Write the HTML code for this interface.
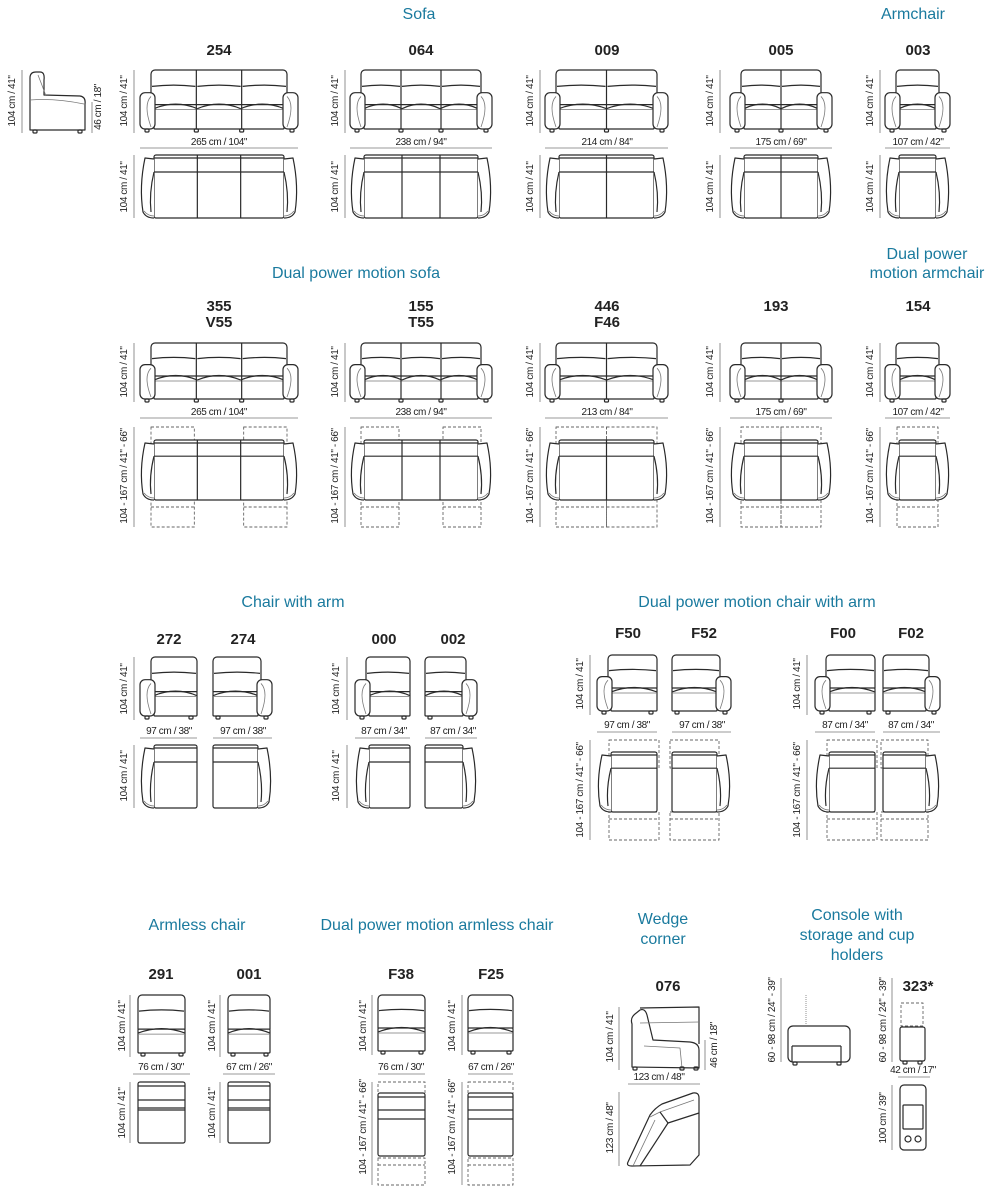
<!DOCTYPE html>
<html><head><meta charset="utf-8"><style>
html,body{margin:0;padding:0;background:#fff;}
svg{display:block;}
.h{font-family:"Liberation Sans",sans-serif;font-size:16px;fill:#1a7a9e;text-anchor:middle;}
.n{font-family:"Liberation Sans",sans-serif;font-size:15px;font-weight:bold;fill:#222;text-anchor:middle;}
.d{font-family:"Liberation Sans Narrow","Liberation Sans",sans-serif;font-size:10px;fill:#222;text-anchor:middle;letter-spacing:-0.4px;}
</style></head><body>
<svg id="s" width="1000" height="1199" viewBox="0 0 1000 1199" xmlns="http://www.w3.org/2000/svg">
<g id="shapes" fill="none" stroke="#2a2a2a" stroke-width="1.2" stroke-linejoin="round"></g>
<g id="txt">
<text class="h" x="419" y="19">Sofa</text>
<text class="h" x="913" y="19">Armchair</text>
<text class="h" x="356" y="278">Dual power motion sofa</text>
<text class="h" x="927" y="259">Dual power</text>
<text class="h" x="927" y="278">motion armchair</text>
<text class="h" x="293" y="607">Chair with arm</text>
<text class="h" x="757" y="607">Dual power motion chair with arm</text>
<text class="h" x="197" y="930">Armless chair</text>
<text class="h" x="437" y="930">Dual power motion armless chair</text>
<text class="h" x="663" y="924">Wedge</text>
<text class="h" x="663" y="944">corner</text>
<text class="h" x="857" y="920">Console with</text>
<text class="h" x="857" y="940">storage and cup</text>
<text class="h" x="857" y="960">holders</text>

<text class="n" x="219" y="55">254</text>
<text class="n" x="421" y="55">064</text>
<text class="n" x="607" y="55">009</text>
<text class="n" x="781" y="55">005</text>
<text class="n" x="918" y="55">003</text>
<text class="n" x="219" y="311">355</text><text class="n" x="219" y="327">V55</text>
<text class="n" x="421" y="311">155</text><text class="n" x="421" y="327">T55</text>
<text class="n" x="607" y="311">446</text><text class="n" x="607" y="327">F46</text>
<text class="n" x="776" y="311">193</text>
<text class="n" x="918" y="311">154</text>
<text class="n" x="169" y="644">272</text>
<text class="n" x="243" y="644">274</text>
<text class="n" x="384" y="644">000</text>
<text class="n" x="453" y="644">002</text>
<text class="n" x="628" y="638">F50</text>
<text class="n" x="704" y="638">F52</text>
<text class="n" x="843" y="638">F00</text>
<text class="n" x="911" y="638">F02</text>
<text class="n" x="161" y="979">291</text>
<text class="n" x="249" y="979">001</text>
<text class="n" x="401" y="979">F38</text>
<text class="n" x="491" y="979">F25</text>
<text class="n" x="668" y="991">076</text>
<text class="n" x="918" y="991">323*</text>

<text class="d" x="219" y="145">265 cm / 104"</text>
<text class="d" x="421" y="145">238 cm / 94"</text>
<text class="d" x="607" y="145">214 cm / 84"</text>
<text class="d" x="781" y="145">175 cm / 69"</text>
<text class="d" x="918" y="145">107 cm / 42"</text>
<text class="d" x="219" y="415">265 cm / 104"</text>
<text class="d" x="421" y="415">238 cm / 94"</text>
<text class="d" x="607" y="415">213 cm / 84"</text>
<text class="d" x="781" y="415">175 cm / 69"</text>
<text class="d" x="918" y="415">107 cm / 42"</text>
<text class="d" x="169" y="734">97 cm / 38"</text>
<text class="d" x="243" y="734">97 cm / 38"</text>
<text class="d" x="384" y="734">87 cm / 34"</text>
<text class="d" x="453" y="734">87 cm / 34"</text>
<text class="d" x="627" y="728">97 cm / 38"</text>
<text class="d" x="702" y="728">97 cm / 38"</text>
<text class="d" x="845" y="728">87 cm / 34"</text>
<text class="d" x="911" y="728">87 cm / 34"</text>
<text class="d" x="161" y="1070">76 cm / 30"</text>
<text class="d" x="249" y="1070">67 cm / 26"</text>
<text class="d" x="401" y="1070">76 cm / 30"</text>
<text class="d" x="491" y="1070">67 cm / 26"</text>
<text class="d" x="659" y="1080">123 cm / 48"</text>
<text class="d" x="913" y="1073">42 cm / 17"</text>

<text class="d" transform="translate(15,101) rotate(-90)">104 cm / 41"</text>
<text class="d" transform="translate(101,107) rotate(-90)">46 cm / 18"</text>
<text class="d" transform="translate(127,101) rotate(-90)">104 cm / 41"</text>
<text class="d" transform="translate(338,101) rotate(-90)">104 cm / 41"</text>
<text class="d" transform="translate(533,101) rotate(-90)">104 cm / 41"</text>
<text class="d" transform="translate(713,101) rotate(-90)">104 cm / 41"</text>
<text class="d" transform="translate(873,101) rotate(-90)">104 cm / 41"</text>
<text class="d" transform="translate(127,187) rotate(-90)">104 cm / 41"</text>
<text class="d" transform="translate(338,187) rotate(-90)">104 cm / 41"</text>
<text class="d" transform="translate(533,187) rotate(-90)">104 cm / 41"</text>
<text class="d" transform="translate(713,187) rotate(-90)">104 cm / 41"</text>
<text class="d" transform="translate(873,187) rotate(-90)">104 cm / 41"</text>
<text class="d" transform="translate(127,372) rotate(-90)">104 cm / 41"</text>
<text class="d" transform="translate(338,372) rotate(-90)">104 cm / 41"</text>
<text class="d" transform="translate(533,372) rotate(-90)">104 cm / 41"</text>
<text class="d" transform="translate(713,372) rotate(-90)">104 cm / 41"</text>
<text class="d" transform="translate(873,372) rotate(-90)">104 cm / 41"</text>
<text class="d" transform="translate(127,476) rotate(-90)">104 - 167 cm / 41" - 66"</text>
<text class="d" transform="translate(338,476) rotate(-90)">104 - 167 cm / 41" - 66"</text>
<text class="d" transform="translate(533,476) rotate(-90)">104 - 167 cm / 41" - 66"</text>
<text class="d" transform="translate(713,476) rotate(-90)">104 - 167 cm / 41" - 66"</text>
<text class="d" transform="translate(873,476) rotate(-90)">104 - 167 cm / 41" - 66"</text>
<text class="d" transform="translate(127,689) rotate(-90)">104 cm / 41"</text>
<text class="d" transform="translate(339,689) rotate(-90)">104 cm / 41"</text>
<text class="d" transform="translate(127,776) rotate(-90)">104 cm / 41"</text>
<text class="d" transform="translate(339,776) rotate(-90)">104 cm / 41"</text>
<text class="d" transform="translate(583,684) rotate(-90)">104 cm / 41"</text>
<text class="d" transform="translate(800,684) rotate(-90)">104 cm / 41"</text>
<text class="d" transform="translate(583,790) rotate(-90)">104 - 167 cm / 41" - 66"</text>
<text class="d" transform="translate(800,790) rotate(-90)">104 - 167 cm / 41" - 66"</text>
<text class="d" transform="translate(125,1026) rotate(-90)">104 cm / 41"</text>
<text class="d" transform="translate(215,1026) rotate(-90)">104 cm / 41"</text>
<text class="d" transform="translate(366,1026) rotate(-90)">104 cm / 41"</text>
<text class="d" transform="translate(455,1026) rotate(-90)">104 cm / 41"</text>
<text class="d" transform="translate(125,1113) rotate(-90)">104 cm / 41"</text>
<text class="d" transform="translate(215,1113) rotate(-90)">104 cm / 41"</text>
<text class="d" transform="translate(366,1127) rotate(-90)">104 - 167 cm / 41" - 66"</text>
<text class="d" transform="translate(455,1127) rotate(-90)">104 - 167 cm / 41" - 66"</text>
<text class="d" transform="translate(613,1037) rotate(-90)">104 cm / 41"</text>
<text class="d" transform="translate(717,1045) rotate(-90)">46 cm / 18"</text>
<text class="d" transform="translate(613,1128) rotate(-90)">123 cm / 48"</text>
<text class="d" transform="translate(775,1020) rotate(-90)">60 - 98 cm / 24" - 39"</text>
<text class="d" transform="translate(886,1020) rotate(-90)">60 - 98 cm / 24" - 39"</text>
<text class="d" transform="translate(886,1118) rotate(-90)">100 cm / 39"</text>
</g>
</svg>
<script>
(function(){
var S='';
function L(a,b,c,d,ex){S+='<line x1="'+a+'" y1="'+b+'" x2="'+c+'" y2="'+d+'" '+(ex||'')+'/>';}
function R(x,y,w,h,r,ex){S+='<rect x="'+x+'" y="'+y+'" width="'+w+'" height="'+h+'" rx="'+(r||0)+'" '+(ex||'')+'/>';}
function P(d,ex){S+='<path d="'+d+'" '+(ex||'')+'/>';}
var thin='stroke="#777" stroke-width="0.8"';
var dash='stroke="#666" stroke-width="0.9" stroke-dasharray="3,2"';
function front(x,y,w,h,n,Lr,Rr){
  var bx0=x+(Lr?11:0),bx1=x+w-(Rr?11:0);
  var sx0=x+(Lr?14:0),sx1=x+w-(Rr?14:0);
  var by=y+h*0.55, bot=y+h-4;
  R(bx0,y,bx1-bx0,by-y+4,4,'fill="#fff"');
  R(sx0,by,sx1-sx0,bot-by,1,'fill="#fff"');
  var cw=(bx1-bx0)/n;
  for(var i=0;i<n;i++){
    var a=bx0+i*cw,b=a+cw;
    P('M'+(a+1)+','+(y+h*0.26)+' Q'+(a+cw/2)+','+(y+h*0.22)+' '+(b-1)+','+(y+h*0.26));
  }
  var sw=(sx1-sx0)/n;
  for(var i=0;i<n;i++){
    var a=sx0+i*sw,b=a+sw;
    P('M'+a+','+(by+4)+' Q'+(a+sw/2)+','+(by-5)+' '+b+','+(by+4));
  }
  L(sx0,by+5,sx1,by+5,thin);
  for(var i=1;i<n;i++){var xx=bx0+i*cw;L(xx,y,xx,bot);}
  function arm(ax,flip){
    var a0=ax,a1=ax+15;
    R(a0,y+h*0.36,15,bot-(y+h*0.36),5,'fill="#fff"');
    var ix=flip?a0+4:a1-4;
    P('M'+ix+','+(y+h*0.42)+' Q'+(flip?a0+12:a1-12)+','+(y+h*0.55)+' '+ix+','+(bot-2),thin);
  }
  if(Lr)arm(x,false);
  if(Rr)arm(x+w-15,true);
  var fs=[x+(Lr?5:3),x+w-(Lr||Rr?8:6)];
  for(var i=1;i<n;i++)fs.push(bx0+i*cw-2);
  fs.forEach(function(f){R(f,bot,4,3,1);});
}
function topv(x,y,w,h,n,Lr,Rr){
  var a=14;
  var bx0=x+(Lr?a:0),bx1=x+w-(Rr?a:0);
  R(bx0,y,bx1-bx0,h,2,'fill="#fff"');
  L(bx0,y+3,bx1,y+3);
  L(bx0,y+h*0.27,bx1,y+h*0.27);
  var cw=(bx1-bx0)/n;
  for(var i=1;i<n;i++){var xx=bx0+i*cw;L(xx,y,xx,y+h);}
  if(Lr){P('M'+(bx0)+','+(y+4)+' L'+(x+5)+','+(y+3)+' Q'+(x-1)+','+(y+h/2)+' '+(x+3)+','+(y+h-6)+' Q'+(x+6)+','+(y+h)+' '+(bx0)+','+(y+h)+' M'+(bx0)+','+(y+h*0.27)+' Q'+(bx0-5)+','+(y+h*0.6)+' '+(bx0-3)+','+(y+h-6),'fill="#fff"');
    P('M'+(x+4)+','+(y+h-7)+' Q'+(x+8)+','+(y+h-2)+' '+(bx0)+','+(y+h-2),thin);}
  if(Rr){P('M'+(bx1)+','+(y+4)+' L'+(x+w-5)+','+(y+3)+' Q'+(x+w+1)+','+(y+h/2)+' '+(x+w-3)+','+(y+h-6)+' Q'+(x+w-6)+','+(y+h)+' '+(bx1)+','+(y+h)+' M'+(bx1)+','+(y+h*0.27)+' Q'+(bx1+5)+','+(y+h*0.6)+' '+(bx1+3)+','+(y+h-6),'fill="#fff"');
    P('M'+(x+w-4)+','+(y+h-7)+' Q'+(x+w-8)+','+(y+h-2)+' '+(bx1)+','+(y+h-2),thin);}
}
function dashes(x0,x1,yt,yb1,yb2,ybot){
  R(x0,yt,x1-x0,yb1-yt,0,dash);
  R(x0,yb2,x1-x0,ybot-yb2,0,dash);
  L(x0,yb2+7,x1,yb2+7,dash);
}
function vline(x,y0,y1){L(x,y0,x,y1,thin);}
function hline(x0,x1,y){L(x0,y,x1,y,thin);}

// side view
P('M30,130 L30,78 Q30,72 36,72 L40,72 Q45,72 44,80 L44,95 L80,96 Q86,97 85,104 L85,130 Z','fill="#fff"');
P('M30,100 Q55,98 84,104',thin);
P('M38,75 Q42,85 46,96',thin);
R(33,130,4,3,1);R(78,130,4,3,1);
vline(22,70,133);vline(92,102,133);

var r1=[[140,158,3,1,1,134],[350,142,3,1,1,345],[545,123,2,1,1,540],[730,102,2,1,1,720],[885,65,1,1,1,880]];
r1.forEach(function(r){front(r[0],70,r[1],63,r[2],r[3],r[4]);topv(r[0],155,r[1],63,r[2],r[3],r[4]);vline(r[5],70,133);vline(r[5],155,218);hline(r[0],r[0]+r[1],148);});
r1.forEach(function(r){front(r[0],343,r[1],60,r[2],r[3],r[4]);
  var x=r[0],w=r[1],n=r[2],bx0=x+14,bx1=x+w-14,cw=(bx1-bx0)/n;
  if(n==3){dashes(bx0-3,bx0+cw-3,427,455,500,527);dashes(bx1-cw+3,bx1+3,427,455,500,527);}
  else if(n==2){dashes(bx0-3,bx0+cw,427,455,500,527);dashes(bx1-cw,bx1+3,427,455,500,527);}
  else {dashes(bx0-2,bx1+2,427,455,500,527);}
  topv(x,440,w,60,n,1,1);
  vline(r[5],343,402);vline(r[5],427,527);hline(x,x+w,418);});
[[140,57,1,0,134],[213,59,0,1,0],[355,55,1,0,347],[425,52,0,1,0]].forEach(function(r){
  front(r[0],657,r[1],63,1,r[2],r[3]);topv(r[0],745,r[1],63,1,r[2],r[3]);
  if(r[4]){vline(r[4],657,720);vline(r[4],745,808);}
  hline(r[0],r[0]+r[1],738);});
[[597,60,1,0,590],[672,59,0,1,0],[815,60,1,0,807],[883,57,0,1,0]].forEach(function(r){
  var x=r[0],w=r[1];
  front(x,655,w,60,1,r[2],r[3]);
  var bx0=x+(r[2]?14:0),bx1=x+w-(r[3]?14:0);
  dashes(bx0-2,bx1+2,740,768,812,840);
  topv(x,752,w,60,1,r[2],r[3]);
  if(r[4]){vline(r[4],655,715);vline(r[4],740,840);}
  hline(x,x+w,732);});
[[138,47,130],[228,42,220]].forEach(function(r){
  front(r[0],995,r[1],62,1,0,0);
  var x=r[0],w=r[1];
  R(x,1082,w,61,2,'fill="#fff"');L(x,1086,w+x,1086);L(x,1100,x+w,1100);L(x,1108,x+w,1108);L(x,1110,x+w,1110);
  vline(r[2],995,1057);vline(r[2],1082,1143);hline(x-5,x+w+5,1074);});
[[378,47,372],[468,45,462]].forEach(function(r){
  var x=r[0],w=r[1];
  front(x,995,w,60,1,0,0);
  dashes(x,x+w,1082,1110,1158,1185);
  R(x,1093,w,63,2,'fill="#fff"');L(x,1097,w+x,1097);L(x,1110,x+w,1110);L(x,1119,x+w,1119);
  vline(r[2],995,1055);vline(r[2],1082,1185);hline(x,x+w,1074);});
P('M632,1067 L632,1024 Q630,1018 635,1014 L640,1010 Q645,1008 647,1015 L653,1040 L690,1042 Q699,1043 699,1050 L699,1068 Z','fill="#fff"');
P('M640,1008 L699,1007 L699,1044','');
L(640,1023,699,1022,thin);
P('M644,1046 L680,1048 L682,1068',thin);
R(633,1067,4,3,1);R(680,1067,4,3,1);R(694,1067,4,3,1);
vline(619,1007,1070);vline(705,1040,1070);hline(628,700,1084);
P('M628,1162 L650,1115 Q655,1108 662,1104 L693,1093 Q699,1092 699,1098 L699,1155 L690,1165 L632,1166 Q626,1166 628,1162 Z','fill="#fff"');
P('M650,1117 L660,1112 L694,1100',thin);
P('M660,1112 L668,1123 L699,1113','');
P('M668,1123 L640,1166','');P('M655,1120 L633,1166',thin);
vline(619,1092,1166);
R(788,1026,62,36,5,'fill="#fff"');L(792,1046,841,1046);L(792,1046,792,1062);L(841,1046,841,1062);
P('M806,995 L806,1024','stroke="#777" stroke-width="0.8" stroke-dasharray="1,1"');
R(793,1062,4,3,1);R(837,1062,4,3,1);
vline(781,978,1062);
R(901,1003,22,23,0,dash);R(900,1027,25,34,2,'fill="#fff"');R(903,1061,4,3,1);R(918,1061,4,3,1);
vline(892,978,1062);hline(898,930,1077);
R(900,1085,26,65,4,'fill="#fff"');R(903,1105,20,24,1);
S+='<circle cx="908" cy="1139" r="3"/><circle cx="918" cy="1139" r="3"/>';
vline(892,1085,1150);
document.getElementById('shapes').innerHTML=S;
})();
</script>
</body></html>
